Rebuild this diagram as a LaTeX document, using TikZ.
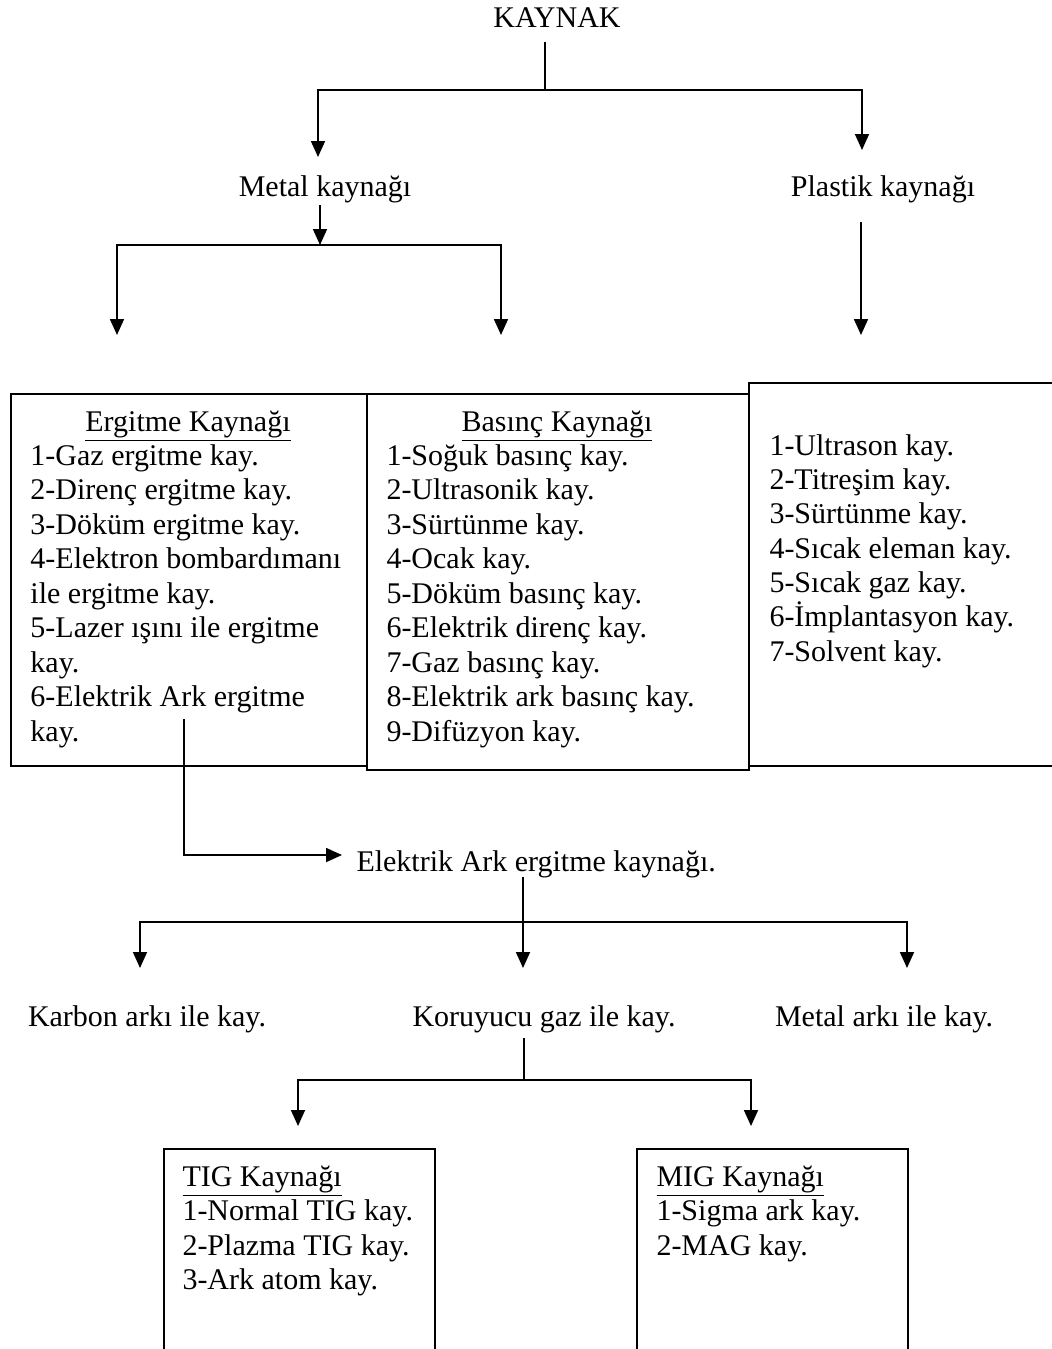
\documentclass[tikz,border=0pt]{standalone}
\usepackage{fontspec}
\setmainfont{Liberation Serif}
\usetikzlibrary{arrows.meta}

\tikzset{
  lbl/.style={inner sep=0pt, font=\fontsize{12pt}{13.8pt}\selectfont},
  box/.style={draw, line width=0.9pt, anchor=north west, inner sep=0pt},
  line/.style={line width=0.7pt},
  arr/.style={line width=0.7pt, -{Triangle[length=6.4pt,width=5.6pt]}}
}

\begin{document}
\begin{tikzpicture}[x=0.4pt, y=-0.4pt]
  \useasboundingbox (0,0) rectangle (1052,1349);

  % Top level
  \node[lbl, anchor=base] (kaynak) at (557,27) {KAYNAK};
  \node[lbl, anchor=base] (metal) at (325,196) {Metal kaynağı};
  \node[lbl, anchor=base] (plastik) at (883,196) {Plastik kaynağı};

  \coordinate (k0) at (545,42);
  \coordinate (kj) at (545,90);
  \coordinate (mtip) at (318,157);
  \coordinate (ptip) at (862,150);
  \draw[line] (k0) -- (kj);
  \draw[arr] (kj) -| (mtip);
  \draw[arr] (kj) -| (ptip);

  % Metal kaynagi -> Ergitme / Basinc
  \coordinate (m0) at (320,205);
  \coordinate (mj) at (320,245);
  \coordinate (etip) at (117,335);
  \coordinate (btip) at (501,335);
  \draw[arr] (m0) -- (mj);
  \draw[arr] (mj) -| (etip);
  \draw[arr] (mj) -| (btip);

  % Plastik kaynagi
  \coordinate (p0) at (861,222);
  \coordinate (p1) at (861,335);
  \draw[arr] (p0) -- (p1);

  % Boxes
  \node[box, minimum width=142.4pt, minimum height=148.8pt] (ergitme) at (10,393) {};
  \node[box, minimum width=152.8pt, minimum height=150.4pt] (basinc) at (366,393) {};
  \node[box, minimum width=126pt, minimum height=153.2pt] (plbox) at (748,382) {};

  \node[lbl, anchor=base] (ergh) at (188,431) {\underline{Ergitme Kaynağı}};
  \foreach \t [count=\i] in {1-Gaz ergitme kay., 2-Direnç ergitme kay.,
      3-Döküm ergitme kay., 4-Elektron bombardımanı, ile ergitme kay.,
      5-Lazer ışını ile ergitme, kay., 6-Elektrik Ark ergitme, kay.}
    \node[lbl, anchor=base west] (erg\i) at (30,{465+34.5*(\i-1)}) {\t};

  \node[lbl, anchor=base] (bash) at (557,431) {\underline{Basınç Kaynağı}};
  \foreach \t [count=\i] in {1-Soğuk basınç kay., 2-Ultrasonik kay.,
      3-Sürtünme kay., 4-Ocak kay., 5-Döküm basınç kay.,
      6-Elektrik direnç kay., 7-Gaz basınç kay.,
      8-Elektrik ark basınç kay., 9-Difüzyon kay.}
    \node[lbl, anchor=base west] (bas\i) at (386,{465+34.5*(\i-1)}) {\t};

  \foreach \t [count=\i] in {1-Ultrason kay., 2-Titreşim kay.,
      3-Sürtünme kay., 4-Sıcak eleman kay., 5-Sıcak gaz kay.,
      6-İmplantasyon kay., 7-Solvent kay.}
    \node[lbl, anchor=base west] (pl\i) at (769,{455+34.35*(\i-1)}) {\t};

  % Elektrik ark
  \node[lbl, anchor=base west] (ark) at (356,871) {Elektrik Ark ergitme kaynağı.};
  \coordinate (a0) at (184,719);
  \coordinate (atip) at (342,855);
  \draw[arr] (a0) |- (atip);

  \node[lbl, anchor=base] (karbon) at (147,1026) {Karbon arkı ile kay.};
  \node[lbl, anchor=base] (koruyucu) at (544,1026) {Koruyucu gaz ile kay.};
  \node[lbl, anchor=base] (metalark) at (884,1026) {Metal arkı ile kay.};

  \coordinate (r0) at (523,877);
  \coordinate (rj) at (523,922);
  \coordinate (r1) at (140,968);
  \coordinate (r2) at (523,968);
  \coordinate (r3) at (907,968);
  \draw[line] (r0) -- (rj);
  \draw[arr] (rj) -| (r1);
  \draw[arr] (rj) -- (r2);
  \draw[arr] (rj) -| (r3);

  % TIG / MIG
  \coordinate (g0) at (524,1038);
  \coordinate (gj) at (524,1080);
  \coordinate (g1) at (298,1126);
  \coordinate (g2) at (751,1126);
  \draw[line] (g0) -- (gj);
  \draw[arr] (gj) -| (g1);
  \draw[arr] (gj) -| (g2);

  \node[box, minimum width=108.4pt, minimum height=88pt] (tig) at (163,1148) {};
  \node[box, minimum width=108.4pt, minimum height=88pt] (mig) at (636,1148) {};

  \node[lbl, anchor=base west] (tigh) at (182,1186) {\underline{TIG Kaynağı}};
  \foreach \t [count=\i] in {1-Normal TIG kay., 2-Plazma TIG kay., 3-Ark atom kay.}
    \node[lbl, anchor=base west] (tig\i) at (182,{1220.5+34.5*(\i-1)}) {\t};

  \node[lbl, anchor=base west] (migh) at (656,1186) {\underline{MIG Kaynağı}};
  \foreach \t [count=\i] in {1-Sigma ark kay., 2-MAG kay.}
    \node[lbl, anchor=base west] (mig\i) at (656,{1220.5+34.5*(\i-1)}) {\t};
\end{tikzpicture}
\end{document}
